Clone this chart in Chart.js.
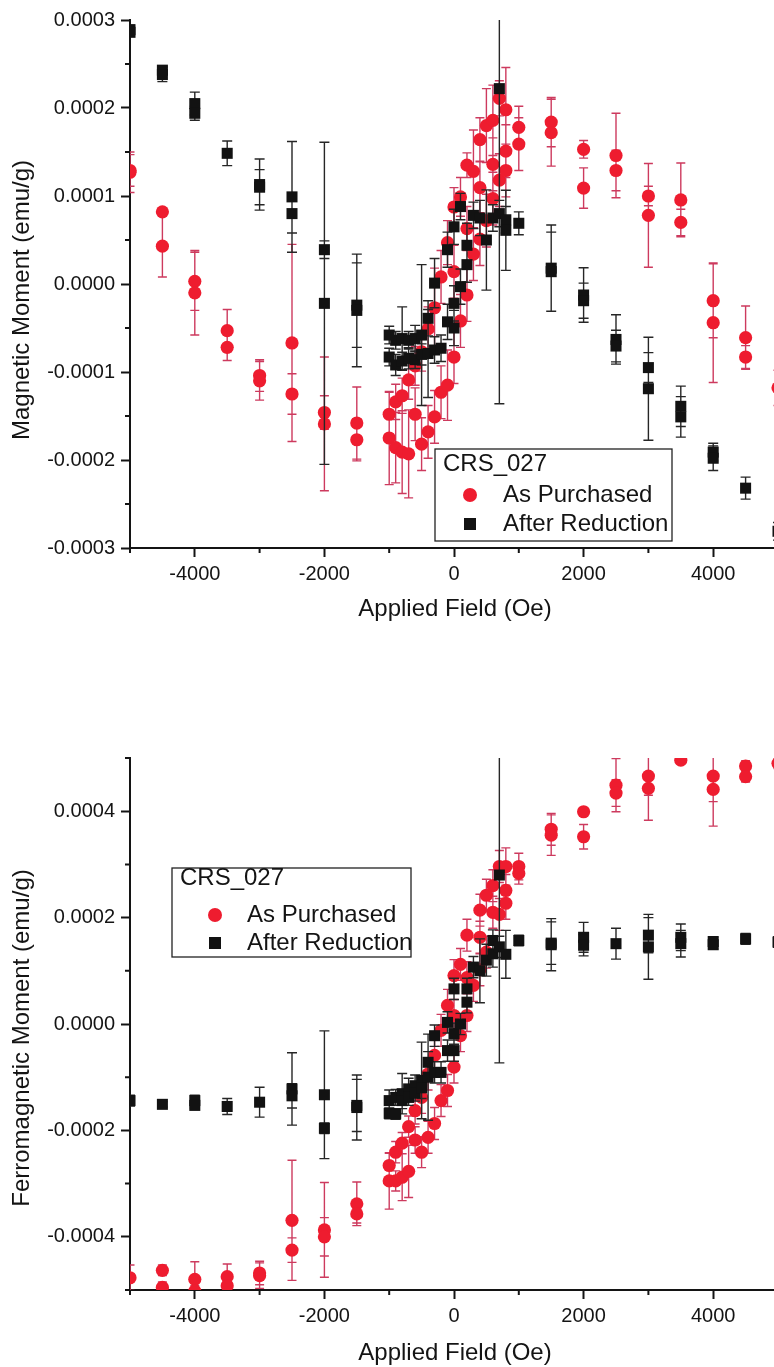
<!DOCTYPE html>
<html lang="en">
<head>
<meta charset="UTF-8">
<title>CRS_027 magnetic moment vs applied field</title>
<script src="https://cdn.jsdelivr.net/npm/chart.js"></script>
<style>
  html, body { margin: 0; padding: 0; background: #fff; overflow: hidden; }
  .panel { position: absolute; left: 0; }
</style>
</head>
<body>
<div class="panel" style="top:0"><canvas id="momentChart" width="800" height="640"></canvas></div>
<div class="panel" style="top:700px"><canvas id="ferroChart" width="800" height="667"></canvas></div>

<script>
// ---- shared axis ticks ----
const fieldTicks = [-4000, -2000, 0, 2000, 4000];
const fieldMinor = [-5000, -3000, -1000, 1000, 3000, 5000];

// ---- top panel: total magnetic moment (emu/g) ----
const momentTicks = [-3e-4, -2e-4, -1e-4, 0, 1e-4, 2e-4, 3e-4];
const momentMinor = [-2.5e-4, -1.5e-4, -0.5e-4, 0.5e-4, 1.5e-4, 2.5e-4];

const purchasedField = [-5000, -5000, -4500, -4500, -4000, -4000, -3500, -3500, -3000, -3000, -2500, -2500, -2000, -2000, -1500, -1500,
  -1000, -1000, -900, -900, -800, -800, -700, -700, -600, -600, -500, -500, -400, -400, -300, -300, -200, -200, -100, -100,
  0, 0, 0, 100, 100, 200, 200, 200, 300, 300, 400, 400, 400, 500, 500, 600, 600, 600, 700, 700, 800, 800, 800, 1000, 1000,
  1500, 1500, 2000, 2000, 2500, 2500, 3000, 3000, 3500, 3500, 4000, 4000, 4500, 4500, 5000];
const purchasedMoment = [1.27e-4, 1.29e-4, 0.82e-4, 0.43e-4, 0.03e-4, -0.10e-4, -0.53e-4, -0.72e-4, -1.04e-4, -1.10e-4, -0.67e-4, -1.25e-4, -1.46e-4, -1.59e-4, -1.58e-4, -1.77e-4,
  -1.48e-4, -1.75e-4, -1.34e-4, -1.86e-4, -1.27e-4, -1.91e-4, -1.09e-4, -1.93e-4, -0.93e-4, -1.48e-4, -0.77e-4, -1.82e-4, -0.51e-4, -1.68e-4, -0.27e-4, -1.51e-4, 0.08e-4, -1.23e-4, 0.47e-4, -1.15e-4,
  0.875e-4, 0.14e-4, -0.83e-4, 0.99e-4, -0.42e-4, 1.35e-4, 0.63e-4, -0.125e-4, 1.28e-4, 0.34e-4, 1.64e-4, 1.095e-4, 0.51e-4, 1.80e-4, 0.72e-4, 1.86e-4, 1.36e-4, 0.97e-4, 2.11e-4, 1.18e-4, 1.98e-4, 1.51e-4, 1.29e-4, 1.78e-4, 1.59e-4,
  1.84e-4, 1.72e-4, 1.53e-4, 1.09e-4, 1.46e-4, 1.29e-4, 1.00e-4, 0.78e-4, 0.955e-4, 0.70e-4, -0.19e-4, -0.44e-4, -0.61e-4, -0.83e-4, -1.18e-4];
const purchasedError = [0.23e-4, 0.18e-4, 0.04e-4, 0.35e-4, 0.33e-4, 0.48e-4, 0.24e-4, 0.15e-4, 0.18e-4, 0.22e-4, 1.12e-4, 0.23e-4, 0.19e-4, 0.76e-4, 0.41e-4, 0.24e-4,
  0.25e-4, 0.53e-4, 0.20e-4, 0.40e-4, 0.20e-4, 0.47e-4, 0.22e-4, 0.50e-4, 0.22e-4, 0.30e-4, 0.22e-4, 0.30e-4, 0.25e-4, 0.30e-4, 0.45e-4, 0.30e-4, 0.30e-4, 0.30e-4, 0.25e-4, 0.40e-4,
  0.22e-4, 0.30e-4, 0.30e-4, 0.22e-4, 0.30e-4, 0.14e-4, 0.25e-4, 0.30e-4, 0.47e-4, 0.30e-4, 0.25e-4, 0.30e-4, 0.30e-4, 0.42e-4, 0.30e-4, 0.40e-4, 0.30e-4, 0.30e-4, 0.20e-4, 0.30e-4, 0.48e-4, 0.30e-4, 0.30e-4, 0.24e-4, 0.30e-4,
  0.28e-4, 0.38e-4, 0.10e-4, 0.23e-4, 0.48e-4, 0.23e-4, 0.11e-4, 0.59e-4, 0.42e-4, 0.15e-4, 0.42e-4, 0.68e-4, 0.36e-4, 0.13e-4, 0.20e-4];

const reducedField = [-5000, -5000, -4500, -4500, -4000, -4000, -3500, -3000, -3000, -2500, -2500, -2000, -2000, -1500, -1500,
  -1000, -1000, -900, -900, -800, -800, -700, -700, -600, -600, -500, -500, -400, -400, -300, -300, -200, -100, -100,
  0, 0, 0, 100, 100, 200, 200, 300, 400, 500, 600, 700, 700, 800, 800, 1000,
  1500, 1500, 2000, 2000, 2500, 2500, 3000, 3000, 3500, 3500, 4000, 4000, 4500, 5000];
const reducedMoment = [2.89e-4, 2.86e-4, 2.43e-4, 2.38e-4, 2.05e-4, 1.94e-4, 1.485e-4, 1.13e-4, 1.10e-4, 0.99e-4, 0.80e-4, 0.39e-4, -0.22e-4, -0.24e-4, -0.30e-4,
  -0.58e-4, -0.83e-4, -0.64e-4, -0.92e-4, -0.62e-4, -0.875e-4, -0.64e-4, -0.845e-4, -0.62e-4, -0.86e-4, -0.58e-4, -0.80e-4, -0.39e-4, -0.79e-4, 0.01e-4, -0.75e-4, -0.73e-4, 0.39e-4, -0.43e-4,
  0.65e-4, -0.22e-4, -0.50e-4, 0.88e-4, -0.03e-4, 0.44e-4, 0.22e-4, 0.78e-4, 0.75e-4, 0.50e-4, 0.75e-4, 2.22e-4, 0.80e-4, 0.73e-4, 0.61e-4, 0.69e-4,
  0.18e-4, 0.14e-4, -0.125e-4, -0.19e-4, -0.63e-4, -0.705e-4, -0.95e-4, -1.19e-4, -1.39e-4, -1.51e-4, -1.91e-4, -1.98e-4, -2.32e-4, -2.81e-4];
const reducedError = [0.05e-4, 0.03e-4, 0.04e-4, 0.08e-4, 0.13e-4, 0.08e-4, 0.14e-4, 0.29e-4, 0.20e-4, 0.63e-4, 0.22e-4, 0.10e-4, 1.83e-4, 0.48e-4, 0.64e-4,
  0.10e-4, 0.10e-4, 0.10e-4, 0.12e-4, 0.36e-4, 0.10e-4, 0.10e-4, 0.12e-4, 0.15e-4, 0.10e-4, 0.80e-4, 0.12e-4, 0.20e-4, 0.50e-4, 0.28e-4, 0.15e-4, 0.15e-4, 0.20e-4, 0.20e-4,
  0.20e-4, 0.20e-4, 0.20e-4, 0.15e-4, 0.20e-4, 0.25e-4, 0.20e-4, 0.15e-4, 0.20e-4, 0.57e-4, 0.15e-4, 3.58e-4, 0.15e-4, 0.15e-4, 0.455e-4, 0.13e-4,
  0.49e-4, 0.45e-4, 0.31e-4, 0.20e-4, 0.28e-4, 0.18e-4, 0.17e-4, 0.585e-4, 0.23e-4, 0.23e-4, 0.10e-4, 0.14e-4, 0.125e-4, 0.10e-4];

// ---- bottom panel: ferromagnetic moment (emu/g) ----
const ferroTicks = [-4e-4, -2e-4, 0, 2e-4, 4e-4];
const ferroMinor = [-5e-4, -3e-4, -1e-4, 1e-4, 3e-4, 5e-4];

const ferroPurchasedField = [-5000, -4500, -4500, -4000, -4000, -3500, -3500, -3000, -3000, -2500, -2500, -2000, -2000, -1500, -1500,
  -1000, -1000, -900, -900, -800, -800, -700, -700, -600, -600, -500, -500, -400, -400, -300, -300, -200, -200, -100, -100,
  0, 0, 0, 100, 100, 200, 200, 200, 300, 400, 400, 400, 500, 500, 600, 600, 700, 700, 800, 800, 800, 1000, 1000,
  1500, 1500, 2000, 2000, 2500, 2500, 3000, 3000, 3500, 4000, 4000, 4500, 4500, 5000];
const ferroPurchasedMoment = [-4.77e-4, -4.63e-4, -4.95e-4, -4.80e-4, -5.02e-4, -4.75e-4, -4.92e-4, -4.68e-4, -4.73e-4, -3.69e-4, -4.25e-4, -3.87e-4, -4.00e-4, -3.38e-4, -3.57e-4,
  -2.66e-4, -2.95e-4, -2.41e-4, -2.95e-4, -2.24e-4, -2.88e-4, -1.93e-4, -2.77e-4, -1.63e-4, -2.18e-4, -1.38e-4, -2.41e-4, -0.94e-4, -2.13e-4, -0.59e-4, -1.87e-4, -0.12e-4, -1.44e-4, 0.35e-4, -1.25e-4,
  0.91e-4, 0.16e-4, -0.81e-4, 1.12e-4, -0.22e-4, 1.67e-4, 0.87e-4, 0.16e-4, 0.725e-4, 2.14e-4, 1.63e-4, 1.02e-4, 2.42e-4, 1.35e-4, 2.60e-4, 2.10e-4, 2.96e-4, 2.06e-4, 2.96e-4, 2.51e-4, 2.27e-4, 2.96e-4, 2.83e-4,
  3.66e-4, 3.55e-4, 3.99e-4, 3.52e-4, 4.49e-4, 4.34e-4, 4.66e-4, 4.43e-4, 4.96e-4, 4.66e-4, 4.41e-4, 4.85e-4, 4.65e-4, 4.90e-4];
const ferroPurchasedError = [0.24e-4, 0.10e-4, 0.10e-4, 0.33e-4, 0.10e-4, 0.24e-4, 0.10e-4, 0.22e-4, 0.24e-4, 1.13e-4, 0.23e-4, 0.89e-4, 0.36e-4, 0.41e-4, 0.17e-4,
  0.23e-4, 0.53e-4, 0.20e-4, 0.19e-4, 0.20e-4, 0.44e-4, 0.20e-4, 0.49e-4, 0.25e-4, 0.25e-4, 0.30e-4, 0.29e-4, 0.30e-4, 0.30e-4, 0.30e-4, 0.30e-4, 0.30e-4, 0.30e-4, 0.30e-4, 0.30e-4,
  0.30e-4, 0.30e-4, 0.30e-4, 0.30e-4, 0.30e-4, 0.30e-4, 0.30e-4, 0.30e-4, 0.30e-4, 0.30e-4, 0.30e-4, 0.30e-4, 0.30e-4, 0.30e-4, 0.30e-4, 0.30e-4, 0.30e-4, 0.30e-4, 0.35e-4, 0.30e-4, 0.30e-4, 0.25e-4, 0.20e-4,
  0.30e-4, 0.38e-4, 0.05e-4, 0.23e-4, 0.50e-4, 0.25e-4, 0.36e-4, 0.60e-4, 0.05e-4, 0.48e-4, 0.69e-4, 0.10e-4, 0.10e-4, 0.10e-4];

const ferroReducedField = [-5000, -4500, -4000, -4000, -3500, -3000, -2500, -2500, -2000, -2000, -1500, -1500,
  -1000, -1000, -900, -900, -800, -800, -700, -700, -600, -600, -500, -500, -400, -400, -300, -300, -200, -100, -100,
  0, 0, 0, 100, 200, 200, 300, 400, 500, 600, 600, 700, 700, 800, 1000,
  1500, 1500, 2000, 2000, 2500, 3000, 3000, 3500, 3500, 4000, 4000, 4500, 5000];
const ferroReducedMoment = [-1.44e-4, -1.51e-4, -1.44e-4, -1.53e-4, -1.55e-4, -1.47e-4, -1.22e-4, -1.35e-4, -1.33e-4, -1.96e-4, -1.57e-4, -1.53e-4,
  -1.44e-4, -1.68e-4, -1.38e-4, -1.69e-4, -1.31e-4, -1.44e-4, -1.22e-4, -1.38e-4, -1.16e-4, -1.30e-4, -1.06e-4, -1.20e-4, -0.72e-4, -1.00e-4, -0.22e-4, -0.91e-4, -0.91e-4, 0.03e-4, -0.50e-4,
  0.66e-4, -0.18e-4, -0.50e-4, 0.00e-4, 0.66e-4, 0.41e-4, 1.07e-4, 1.00e-4, 1.20e-4, 1.57e-4, 1.32e-4, 2.80e-4, 1.45e-4, 1.31e-4, 1.57e-4,
  1.52e-4, 1.49e-4, 1.63e-4, 1.48e-4, 1.51e-4, 1.67e-4, 1.45e-4, 1.63e-4, 1.51e-4, 1.55e-4, 1.49e-4, 1.60e-4, 1.54e-4];
const ferroReducedError = [0.10e-4, 0.05e-4, 0.10e-4, 0.05e-4, 0.15e-4, 0.28e-4, 0.68e-4, 0.23e-4, 1.20e-4, 0.10e-4, 0.61e-4, 0.49e-4,
  0.20e-4, 0.10e-4, 0.15e-4, 0.10e-4, 0.38e-4, 0.15e-4, 0.20e-4, 0.15e-4, 0.20e-4, 0.15e-4, 0.72e-4, 0.20e-4, 0.20e-4, 0.81e-4, 0.20e-4, 0.20e-4, 0.20e-4, 0.20e-4, 0.20e-4,
  0.20e-4, 0.20e-4, 0.20e-4, 0.20e-4, 0.20e-4, 0.20e-4, 0.20e-4, 0.60e-4, 0.30e-4, 0.20e-4, 0.25e-4, 3.53e-4, 0.20e-4, 0.45e-4, 0.10e-4,
  0.40e-4, 0.49e-4, 0.28e-4, 0.20e-4, 0.29e-4, 0.33e-4, 0.61e-4, 0.25e-4, 0.25e-4, 0.08e-4, 0.08e-4, 0.10e-4, 0.10e-4];

// ---- styling ----
const FONT = "'Liberation Sans', Arial, Helvetica, sans-serif";
const INK = '#141414';
const RED = '#ee1c2f';
const RED_BAR = '#cd3a5e';
const BLACK = '#121212';
const BLACK_BAR = '#262626';

// vertical error bars with caps, drawn just before each dataset's markers
const errorBars = {
  id: 'errorBars',
  beforeDatasetDraw(chart, args) {
    const ds = chart.data.datasets[args.index];
    if (!ds.errors) return;
    const { ctx, chartArea: a, scales: { y } } = chart;
    const cap = ds.capHalf;
    ctx.save();
    ctx.beginPath();
    ctx.rect(a.left, a.top, a.right - a.left, a.bottom - a.top);
    ctx.clip();
    ctx.strokeStyle = ds.errorColor;
    ctx.lineWidth = 1.4;
    ctx.beginPath();
    args.meta.data.forEach((pt, i) => {
      const v = ds.data[i].y, e = ds.errors[i];
      const y1 = y.getPixelForValue(v + e);
      const y2 = y.getPixelForValue(v - e);
      ctx.moveTo(pt.x, y1); ctx.lineTo(pt.x, y2);
      ctx.moveTo(pt.x - cap, y1); ctx.lineTo(pt.x + cap, y1);
      ctx.moveTo(pt.x - cap, y2); ctx.lineTo(pt.x + cap, y2);
    });
    ctx.stroke();
    ctx.restore();
  }
};

// short outward minor ticks on both axes
const minorTicks = {
  id: 'minorTicks',
  afterDraw(chart, args, opts) {
    const { ctx, chartArea: a, scales: { x, y } } = chart;
    ctx.save();
    ctx.strokeStyle = INK;
    ctx.lineWidth = 2;
    ctx.beginPath();
    opts.x.forEach(v => {
      const px = x.getPixelForValue(v);
      ctx.moveTo(px, a.bottom); ctx.lineTo(px, a.bottom + 5);
    });
    opts.y.forEach(v => {
      const py = y.getPixelForValue(v);
      ctx.moveTo(a.left, py); ctx.lineTo(a.left - 5, py);
    });
    ctx.stroke();
    ctx.restore();
  }
};

// axis titles at fixed spots
const axisTitles = {
  id: 'axisTitles',
  afterDraw(chart, args, opts) {
    const { ctx } = chart;
    ctx.save();
    ctx.fillStyle = INK;
    ctx.font = '24px ' + FONT;
    ctx.textAlign = 'center';
    ctx.textBaseline = 'middle';
    ctx.fillText(opts.x, opts.xAt[0], opts.xAt[1]);
    ctx.translate(opts.yAt[0], opts.yAt[1]);
    ctx.rotate(-Math.PI / 2);
    ctx.fillText(opts.y, 0, 0);
    ctx.restore();
  }
};

// boxed legend with a sample title
const boxLegend = {
  id: 'boxLegend',
  afterDraw(chart, args, opts) {
    const { ctx } = chart;
    const [bx, by, bw, bh] = opts.box;
    ctx.save();
    ctx.fillStyle = '#fff';
    ctx.fillRect(bx, by, bw, bh);
    ctx.strokeStyle = '#222';
    ctx.lineWidth = 1.3;
    ctx.strokeRect(bx, by, bw, bh);
    ctx.fillStyle = INK;
    ctx.font = '24px ' + FONT;
    ctx.textAlign = 'left';
    ctx.textBaseline = 'middle';
    ctx.fillText(opts.title, opts.titleX, opts.rows[0]);
    ctx.fillText('As Purchased', opts.textX, opts.rows[1]);
    ctx.fillText('After Reduction', opts.textX, opts.rows[2]);
    ctx.fillStyle = RED;
    ctx.beginPath();
    ctx.arc(opts.symX, opts.rows[1], 7, 0, Math.PI * 2);
    ctx.fill();
    ctx.fillStyle = BLACK;
    ctx.fillRect(opts.symX - 6, opts.rows[2] - 6, 12, 12);
    ctx.restore();
  }
};

function points(xs, ys) {
  return xs.map((x, i) => ({ x, y: ys[i] }));
}

function makeChart(id, cfg) {
  const tickFont = { family: FONT, size: 20 };
  return new Chart(document.getElementById(id), {
    type: 'scatter',
    data: {
      datasets: [
        {
          label: 'As Purchased',
          data: points(cfg.purchased[0], cfg.purchased[1]),
          errors: cfg.purchased[2],
          errorColor: RED_BAR,
          capHalf: 4.5,
          pointStyle: 'circle',
          pointRadius: 6.6,
          backgroundColor: RED,
          borderWidth: 0,
          clip: 0,
          order: 2
        },
        {
          label: 'After Reduction',
          data: points(cfg.reduced[0], cfg.reduced[1]),
          errors: cfg.reduced[2],
          errorColor: BLACK_BAR,
          capHalf: 5,
          pointStyle: 'rect',
          pointRadius: 7.8,
          backgroundColor: BLACK,
          borderWidth: 0,
          clip: 0,
          order: 1
        }
      ]
    },
    options: {
      responsive: false,
      animation: false,
      events: [],
      layout: { padding: { top: cfg.padTop, right: 22, left: 0, bottom: 0 } },
      scales: {
        x: {
          type: 'linear',
          min: -5000,
          max: 5000,
          afterBuildTicks: s => { s.ticks = fieldTicks.map(value => ({ value })); },
          afterFit: s => { s.height = cfg.xHeight; },
          grid: { drawOnChartArea: false, tickLength: 9, tickWidth: 2, tickColor: INK },
          border: { color: INK, width: 2 },
          ticks: { color: INK, font: tickFont, padding: 5, maxRotation: 0, autoSkip: false, callback: v => String(v) }
        },
        y: {
          type: 'linear',
          min: cfg.yMin,
          max: cfg.yMax,
          afterBuildTicks: s => { s.ticks = cfg.yTicks.map(value => ({ value })); },
          afterFit: s => { s.width = 130; },
          grid: { drawOnChartArea: false, tickLength: 9, tickWidth: 2, tickColor: INK },
          border: { color: INK, width: 2 },
          ticks: {
            color: INK, font: tickFont, padding: 6, autoSkip: false,
            callback: v => (Math.abs(v) < 1e-12 ? '0.0000' : v.toFixed(4))
          }
        }
      },
      plugins: {
        legend: { display: false },
        tooltip: { enabled: false },
        minorTicks: { x: fieldMinor, y: cfg.yMinor },
        axisTitles: cfg.titles,
        boxLegend: cfg.legend
      }
    },
    plugins: [errorBars, minorTicks, axisTitles, boxLegend]
  });
}

makeChart('momentChart', {
  purchased: [purchasedField, purchasedMoment, purchasedError],
  reduced: [reducedField, reducedMoment, reducedError],
  yMin: -3e-4, yMax: 3e-4, yTicks: momentTicks, yMinor: momentMinor,
  padTop: 20, xHeight: 92,
  titles: { x: 'Applied Field (Oe)', xAt: [455, 609], y: 'Magnetic Moment (emu/g)', yAt: [22, 300] },
  legend: { box: [435, 449, 237, 92], title: 'CRS_027', titleX: 443, rows: [464, 495, 524], symX: 470, textX: 503 }
});

makeChart('ferroChart', {
  purchased: [ferroPurchasedField, ferroPurchasedMoment, ferroPurchasedError],
  reduced: [ferroReducedField, ferroReducedMoment, ferroReducedError],
  yMin: -5e-4, yMax: 5e-4, yTicks: ferroTicks, yMinor: ferroMinor,
  padTop: 58, xHeight: 77,
  titles: { x: 'Applied Field (Oe)', xAt: [455, 653], y: 'Ferromagnetic Moment (emu/g)', yAt: [22, 338] },
  legend: { box: [172, 168, 239, 89], title: 'CRS_027', titleX: 180, rows: [178, 215, 243], symX: 215, textX: 247 }
});
</script>
</body>
</html>
